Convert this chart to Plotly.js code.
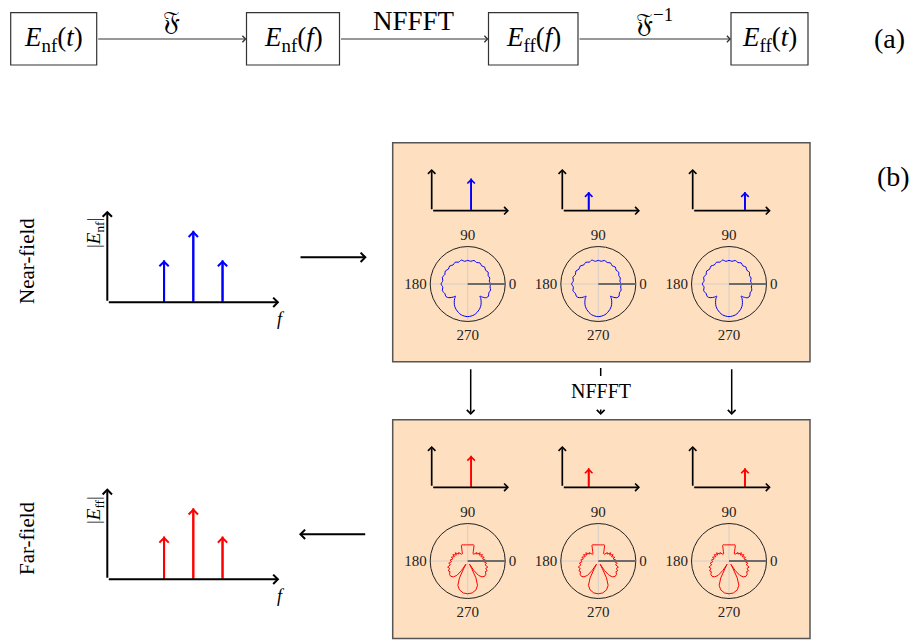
<!DOCTYPE html>
<html>
<head>
<meta charset="utf-8">
<script src="https://cdn.plot.ly/plotly-3.0.1.min.js"></script>
<style>html,body{margin:0;padding:0;background:#fff;}#chart{width:914px;height:641px;}</style>
</head>
<body>
<div id="chart"></div>
<script>
// ---------------- data ----------------
const flowBoxLabels = ['<i>E</i><sub>nf</sub>(<i>t</i>)', '<i>E</i><sub>nf</sub>(<i>f</i>)', '<i>E</i><sub>ff</sub>(<i>f</i>)', '<i>E</i><sub>ff</sub>(<i>t</i>)'];
const flowArrowLabels = ['\u{1D509}', 'NFFFT', '\u{1D509}<sup>\u22121</sup>'];
const rowLabels = ['Near-field', 'Far-field'];
const spectrumAxisLabels = ['|<i>E</i><sub>nf</sub>|', '|<i>E</i><sub>ff</sub>|'];

const spectrumFreq = [0.33, 0.50, 0.67];
const nearSpectrumAmp = [0.46, 0.78, 0.46];
const farSpectrumAmp = [0.47, 0.78, 0.47];

const componentFreq = [0.51, 0.34, 0.67];
const nearComponentAmp = [0.77, 0.45, 0.45];
const farComponentAmp = [0.765, 0.46, 0.46];

const polarTickVals = [0, 90, 180, 270];
const polarTickText = ['0', '90', '180', '270'];

const nearTheta = [0, 7.5, 15, 22.5, 30, 37.5, 45, 52.5, 60, 67.5, 75, 82.5, 90, 97.5, 105, 112.5, 120, 127.5, 135, 142.5, 150, 157.5, 165, 172.5, 180, 187.5, 195, 202.5, 210, 216, 222, 225, 228, 234, 240, 246, 252, 258, 264, 270, 276, 282, 288, 294, 300, 306, 312, 315, 318, 324, 330, 337.5, 345, 352.5, 360];
const nearR = [0.61, 0.58, 0.61, 0.59, 0.63, 0.60, 0.64, 0.61, 0.65, 0.62, 0.65, 0.61, 0.63, 0.61, 0.66, 0.63, 0.67, 0.64, 0.68, 0.65, 0.69, 0.66, 0.70, 0.67, 0.71, 0.67, 0.70, 0.66, 0.67, 0.62, 0.52, 0.46, 0.52, 0.61, 0.69, 0.75, 0.80, 0.84, 0.86, 0.87, 0.86, 0.84, 0.80, 0.75, 0.69, 0.61, 0.52, 0.46, 0.52, 0.62, 0.64, 0.61, 0.63, 0.60, 0.61];

const farTheta = [3, 8, 13, 18, 23, 28, 33, 38, 43, 48, 54, 60, 65, 68, 70, 75, 82, 90, 98, 105, 110, 112, 115, 120, 126, 132, 137, 142, 147, 152, 157, 162, 167, 172, 177, 182, 187, 192, 197, 202, 207, 211, 216, 222, 228, 233, 237, 240, 242, 244, 248, 254, 262, 270, 278, 286, 292, 296, 298, 300, 303, 307, 312, 318, 324, 329, 333, 338, 343, 348, 353, 358, 363];
const farR = [0.47, 0.40, 0.45, 0.37, 0.43, 0.34, 0.40, 0.30, 0.33, 0.24, 0.24, 0.30, 0.38, 0.45, 0.46, 0.445, 0.435, 0.43, 0.435, 0.445, 0.46, 0.45, 0.38, 0.30, 0.24, 0.24, 0.33, 0.30, 0.40, 0.34, 0.43, 0.37, 0.45, 0.40, 0.47, 0.43, 0.51, 0.47, 0.56, 0.52, 0.58, 0.55, 0.60, 0.61, 0.57, 0.48, 0.30, 0.10, 0.22, 0.50, 0.70, 0.80, 0.86, 0.875, 0.86, 0.80, 0.70, 0.50, 0.22, 0.10, 0.30, 0.48, 0.57, 0.61, 0.60, 0.55, 0.58, 0.52, 0.56, 0.47, 0.51, 0.43, 0.47];

// ---------------- layout helpers (pixel -> paper) ----------------
const W = 914, H = 641;
const X = p => p / W;
const Y = p => 1 - p / H;
const SERIF = 'Liberation Serif, Times New Roman, serif';
const MATHF = 'Liberation Serif, DejaVu Serif, DejaVu Sans, serif';
const BLUE = '#0000ff', RED = '#ff0000';

const traces = [];
const annotations = [];
const shapes = [];
const layout = {
  width: W, height: H,
  margin: {l: 0, r: 0, t: 0, b: 0},
  paper_bgcolor: '#ffffff', plot_bgcolor: 'rgba(0,0,0,0)',
  showlegend: false,
  font: {family: SERIF, color: '#000'}
};

function label(px, py, str, size, extra) {
  annotations.push(Object.assign({xref: 'paper', yref: 'paper', x: X(px), y: Y(py), text: str, showarrow: false,
    xanchor: 'center', yanchor: 'middle', font: {size: size, family: SERIF, color: '#000'}}, extra || {}));
}
function arrowPx(x1, y1, x0, y0, width, size, color) {
  annotations.push({xref: 'paper', yref: 'paper', x: X(x1), y: Y(y1), ax: x0 - x1, ay: y0 - y1, text: '',
    showarrow: true, arrowhead: 4, arrowsize: size, arrowwidth: width, arrowcolor: color, standoff: 0, startstandoff: 0});
}

// ---------- (a) flow ----------
const boxes = [[10.7, 96.7], [246.5, 339.5], [488.5, 578], [731, 808]];
const boxTop = 12.7, boxBot = 65, flowY = 39;
boxes.forEach((b, i) => {
  shapes.push({type: 'rect', xref: 'paper', yref: 'paper', x0: X(b[0]), x1: X(b[1]), y0: Y(boxBot), y1: Y(boxTop),
    line: {color: '#333', width: 1.2}, fillcolor: 'rgba(0,0,0,0)'});
  label((b[0] + b[1]) / 2, flowY, flowBoxLabels[i], 27);
  if (i < boxes.length - 1) {
    const x0 = b[1], x1 = boxes[i + 1][0];
    arrowPx(x1, flowY, x0, flowY, 1.1, 1.1, '#333');
    label((x0 + x1) / 2, 21, flowArrowLabels[i], 27, i === 1 ? {} : {font: {size: 27, family: MATHF, color: '#000'}});
  }
});
label(889, 39, '(a)', 28);
label(912, 176, '(b)', 28, {xanchor: 'right'});

// ---------- orange panels ----------
const panels = [[142.7, 361.7], [419.7, 638.5]];
panels.forEach(p => {
  shapes.push({type: 'rect', xref: 'paper', yref: 'paper', layer: 'below', x0: X(392.7), x1: X(810), y0: Y(p[1]), y1: Y(p[0]),
    line: {color: '#555', width: 1.5}, fillcolor: '#fedfc0'});
});

// ---------- spectra subplots ----------
let axN = 0;
function spectrum(px0, px1, py0, py1, freq, amp, color, axisW, headSize) {
  axN++;
  const xa = axN === 1 ? 'xaxis' : 'xaxis' + axN;
  const ya = axN === 1 ? 'yaxis' : 'yaxis' + axN;
  const xr = axN === 1 ? 'x' : 'x' + axN;
  const yr = axN === 1 ? 'y' : 'y' + axN;
  layout[xa] = {domain: [X(px0), X(px1)], range: [0, 1], visible: false, fixedrange: true, anchor: yr};
  layout[ya] = {domain: [Y(py1), Y(py0)], range: [0, 1], visible: false, fixedrange: true, anchor: xr};
  const sx = [], sy = [];
  freq.forEach((f, i) => { sx.push(f, f, null); sy.push(0, amp[i], null); });
  traces.push({type: 'scatter', mode: 'lines', x: sx, y: sy, xaxis: xr, yaxis: yr,
    line: {color: color, width: axisW}, hoverinfo: 'skip'});
  const arr = (x, y, ax, ay, c) => annotations.push({xref: xr, yref: yr, axref: xr, ayref: yr, x: x, y: y, ax: ax, ay: ay,
    text: '', showarrow: true, arrowhead: 4, arrowsize: headSize, arrowwidth: axisW, arrowcolor: c, standoff: 0});
  arr(0, 1, 0, 0, '#000');
  arr(1, 0, 0, 0, '#000');
  freq.forEach((f, i) => arr(f, amp[i], f, 0, color));
}
// big spectra
spectrum(107.3, 279.3, 210.7, 302.3, spectrumFreq, nearSpectrumAmp, BLUE, 2, 0.9);
spectrum(107.3, 279.3, 488.3, 579.3, spectrumFreq, farSpectrumAmp, RED, 2, 0.9);
// component spectra
const compX = [[431.7, 509], [562.3, 640], [692.7, 770.7]];
compX.forEach((c, i) => spectrum(c[0], c[1], 169, 210.7, [componentFreq[i]], [nearComponentAmp[i]], BLUE, 1.7, 0.85));
compX.forEach((c, i) => spectrum(c[0], c[1], 446, 487.3, [componentFreq[i]], [farComponentAmp[i]], RED, 1.7, 0.85));

// spectra labels
[[233, 319], [510, 596]].forEach((p, i) => {
  label(95, p[0], spectrumAxisLabels[i], 19, {textangle: -90});
  label(281, p[1], '<i>f</i>', 18);
});
label(27, 261, rowLabels[0], 21, {textangle: -90});
label(27, 538, rowLabels[1], 21, {textangle: -90});

// ---------- polar plots ----------
const polarCx = [467.7, 598.3, 729];
const polarCy = [284, 561];
const R = 37.5;
let pN = 0;
polarCy.forEach((cy, row) => {
  polarCx.forEach(cx => {
    pN++;
    const key = pN === 1 ? 'polar' : 'polar' + pN;
    layout[key] = {
      domain: {x: [X(cx - R), X(cx + R)], y: [Y(cy + R), Y(cy - R)]},
      bgcolor: 'rgba(0,0,0,0)',
      radialaxis: {range: [0, 1], showticklabels: false, ticks: '', showgrid: false, showline: true,
        linecolor: '#6b6b6b', linewidth: 2, angle: 0},
      angularaxis: {tickmode: 'array', tickvals: polarTickVals, ticktext: polarTickText, ticks: '',
        showgrid: true, gridcolor: 'rgba(200,200,200,0.75)', gridwidth: 1, linecolor: '#222', linewidth: 1,
        direction: 'counterclockwise', rotation: 0, tickfont: {size: 15, family: SERIF, color: '#222'}}
    };
    traces.push({type: 'scatterpolar', mode: 'lines', subplot: key,
      r: row === 0 ? nearR : farR, theta: row === 0 ? nearTheta : farTheta,
      line: {color: row === 0 ? BLUE : RED, width: 1, shape: row === 0 ? 'spline' : 'linear'}, hoverinfo: 'skip'});
  });
});

// ---------- connecting arrows ----------
arrowPx(366.7, 257.3, 299, 257.3, 2, 0.9, '#000');
arrowPx(299, 534.3, 366.7, 534.3, 2, 0.9, '#000');
[470.7, 731.7].forEach(x => arrowPx(x, 415, x, 367.7, 1.5, 1, '#000'));
shapes.push({type: 'line', xref: 'paper', yref: 'paper', x0: X(600.7), x1: X(600.7), y0: Y(368), y1: Y(376), line: {color: '#000', width: 1.5}});
arrowPx(600.7, 415, 600.7, 408, 1.5, 1, '#000');
label(600.7, 391, 'NFFFT', 20);

layout.annotations = annotations;
layout.shapes = shapes;

Plotly.newPlot('chart', traces, layout, {displayModeBar: false, staticPlot: true});
</script>
</body>
</html>
